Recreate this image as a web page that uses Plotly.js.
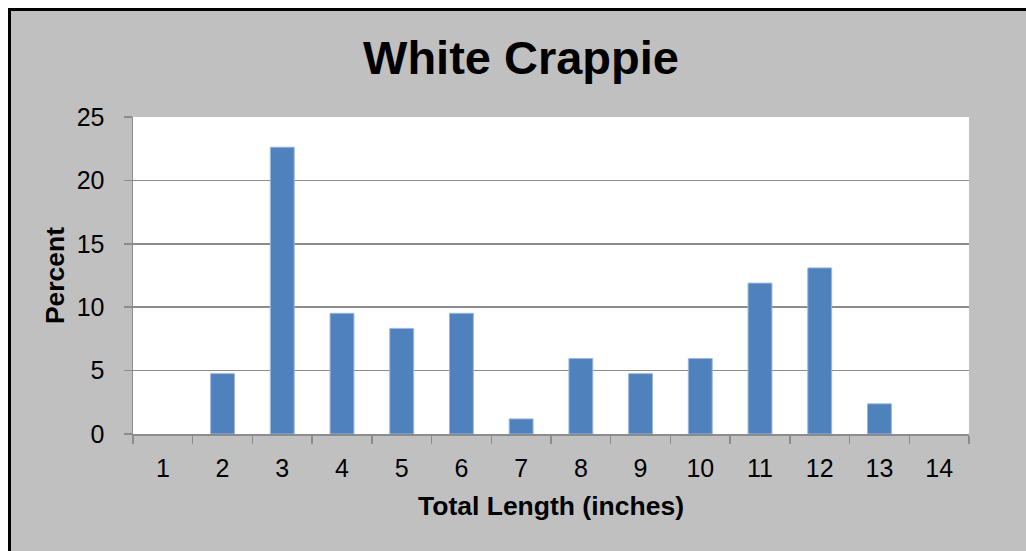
<!DOCTYPE html>
<html>
<head>
<meta charset="utf-8">
<script src="https://cdn.plot.ly/plotly-3.0.1.min.js"></script>
<style>
html, body { margin:0; padding:0; background:#ffffff; overflow:hidden; width:1026px; height:551px; }
#frame { position:absolute; left:8px; top:8px; width:1040px; height:570px; background:#c0c0c0; border:3px solid #000; }
#chart { position:absolute; left:0; top:0; width:1026px; height:551px; }
</style>
</head>
<body>
<div id="frame"></div>
<div id="chart"></div>
<script>
var categories = ["1","2","3","4","5","6","7","8","9","10","11","12","13","14"];
var percentValues = [0, 4.76, 22.62, 9.52, 8.33, 9.52, 1.19, 5.95, 4.76, 5.95, 11.90, 13.10, 2.38, 0];
var yTickValues = [0, 5, 10, 15, 20, 25];

var FONT = "Liberation Sans, Arial, sans-serif";

var trace = {
  type: "bar",
  x: categories,
  y: percentValues,
  marker: {
    color: "#4F81BD",
    line: { color: "#9db7dc", width: percentValues.map(function (v) { return v > 0 ? 1 : 0; }) }
  },
  hoverinfo: "x+y"
};

var layout = {
  width: 1026,
  height: 551,
  margin: { l: 133, r: 57, t: 117, b: 117, pad: 0 },
  paper_bgcolor: "rgba(0,0,0,0)",
  plot_bgcolor: "#ffffff",
  bargap: 0.6,
  showlegend: false,
  title: {
    text: "<b>White Crappie</b>",
    font: { family: FONT, size: 47, color: "#000" },
    x: 521 / 1026, xref: "container", xanchor: "center",
    y: 1 - 58 / 551, yref: "container", yanchor: "middle"
  },
  xaxis: {
    type: "category",
    tickson: "boundaries",
    ticks: "outside",
    ticklen: 8,
    tickwidth: 1.5,
    tickcolor: "#8c8c8c",
    showline: true,
    linecolor: "#8c8c8c",
    linewidth: 1.5,
    showgrid: false,
    tickfont: { family: FONT, size: 25, color: "#000" },
    ticklabelstandoff: 11,
    title: { text: "<b>Total Length (inches)</b>", font: { family: FONT, size: 26.5, color: "#000" }, standoff: 16 }
  },
  yaxis: {
    range: [0, 25],
    tickmode: "array",
    tickvals: yTickValues,
    ticktext: yTickValues.map(String),
    ticks: "outside",
    ticklen: 8,
    tickwidth: 1.5,
    tickcolor: "#8c8c8c",
    showline: true,
    linecolor: "#8c8c8c",
    linewidth: 1.5,
    showgrid: true,
    gridcolor: "#8c8c8c",
    gridwidth: 1.5,
    zeroline: false,
    tickfont: { family: FONT, size: 25, color: "#000" },
    ticklabelstandoff: 14,
    title: { text: "<b>Percent</b>", font: { family: FONT, size: 26.5, color: "#000" }, standoff: 4 }
  }
};

Plotly.newPlot("chart", [trace], layout, { displayModeBar: false, staticPlot: true });
</script>
</body>
</html>
